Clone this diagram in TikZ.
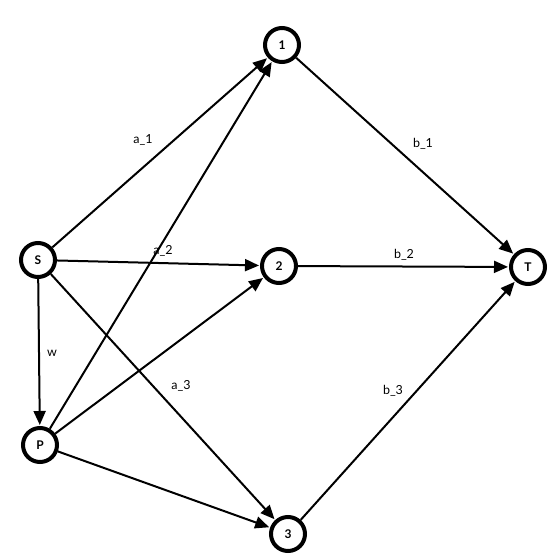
\documentclass[tikz,border=0pt]{standalone}
\usepackage{fontspec}
\setmainfont{Lato}
\usetikzlibrary{arrows.meta}
\tikzset{
  vert/.style={circle,draw=black,line width=4pt,fill=white,minimum size=34pt,inner sep=0pt,font=\fontsize{12}{14}\selectfont\bfseries},
  edge/.style={line width=2pt,-{Triangle[length=14pt,width=12pt]},shorten >=1pt},
  lab/.style={font=\fontsize{12.5}{14}\selectfont,inner sep=0pt}
}
\begin{document}
\begin{tikzpicture}[x=1pt,y=-1pt]
\useasboundingbox (0,0) rectangle (560,560);
\fill[white] (0,0) rectangle (560,560);
\node[vert] (S) at (38,260) {S};
\node[vert] (n1) at (282,45) {1};
\node[vert] (n2) at (279,266) {2};
\node[vert] (T) at (528,267) {T};
\node[vert] (P) at (40,445) {P};
\node[vert] (n3) at (288,534) {3};
\draw[edge] (S) -- (n1);
\draw[edge] (S) -- (n2);
\draw[edge] (S) -- (n3);
\draw[edge] (S) -- (P);
\draw[edge] (P) -- (n1);
\draw[edge] (P) -- (n2);
\draw[edge] (P) -- (n3);
\draw[edge] (n1) -- (T);
\draw[edge] (n2) -- (T);
\draw[edge] (n3) -- (T);
\node[lab] (la1) at (143,140) {a\_1};
\node[lab] (lb1) at (423,144) {b\_1};
\node[lab] (la2) at (163,251) {a\_2};
\node[lab] (lb2) at (404,255) {b\_2};
\node[lab] (lw) at (52,353) {w};
\node[lab] (la3) at (181,386) {a\_3};
\node[lab] (lb3) at (393,391) {b\_3};
\end{tikzpicture}
\end{document}
